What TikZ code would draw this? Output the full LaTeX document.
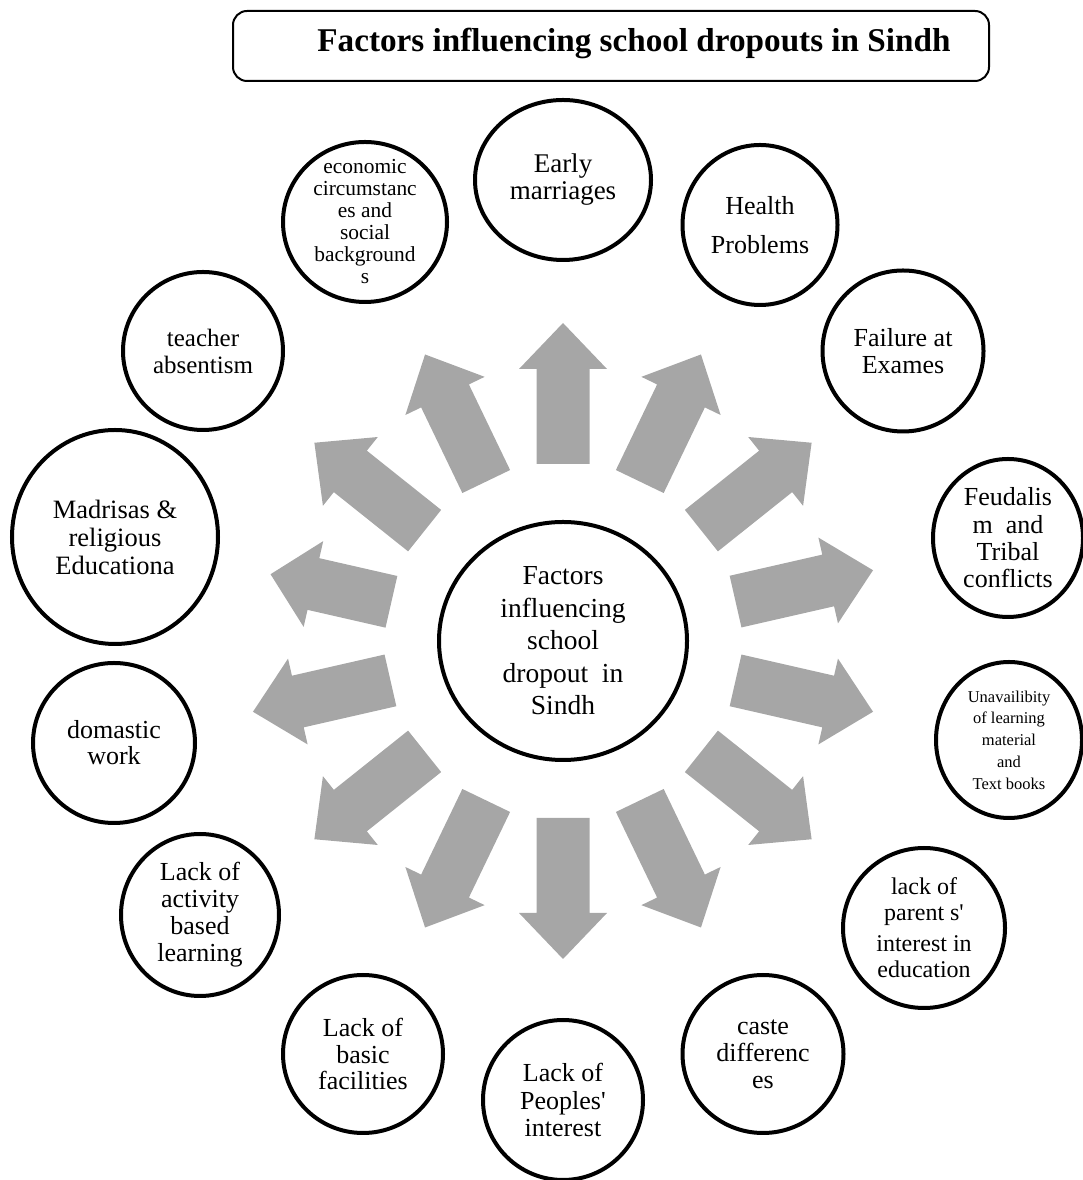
\documentclass[tikz,border=0pt]{standalone}
\usepackage{fontspec}
\setmainfont{Liberation Serif}
\usetikzlibrary{shapes.geometric}
\definecolor{arrowgray}{HTML}{A6A6A6}
\begin{document}
\begin{tikzpicture}[x=1pt,y=1pt,
  bubble/.style={ellipse, draw=black, line width=4pt, fill=white, inner sep=0pt},
  btext/.style={align=center, inner sep=0pt},
  blockarrow/.style={fill=arrowgray}]
\useasboundingbox (0,0) rectangle (1082,1180);

% title
\node[draw=black, line width=2pt, rounded corners=14pt, minimum width=756pt, minimum height=70pt, inner sep=0pt] (titlebox) at (611,1134) {};
\node[anchor=base, inner sep=0pt, font=\fontsize{33.2}{36}\selectfont\bfseries] (titletext) at (634,1128) {Factors influencing school dropouts in Sindh};

% centre
\coordinate (c) at (563,539);
\node[bubble, minimum width=248pt, minimum height=238pt] (hub) at (c) {};
\node[btext, font=\fontsize{27.5}{32.5}\selectfont] (hubt) at (hub) {Factors\\influencing\\school\\dropout\ \ in\\Sindh};

% block arrows
\foreach \a/\s/\h/\t in {90/177/272/318, 64.29/177/272/318, 38.57/177/272/318, 12.86/177/272/318,
  -12.86/177/272/318, -38.57/177/272/318, -64.29/177/272/318, -90/177/272/318,
  -115.71/177/272/318, -141.43/177/272/318, -167.14/177/272/318, 167.14/176/256/300,
  141.43/177/272/318, 115.71/177/272/318}{
  \fill[blockarrow, shift={(c)}, rotate=\a] (\s,-26.5) -- (\h,-26.5) -- (\h,-44) -- (\t,0) -- (\h,44) -- (\h,26.5) -- (\s,26.5) -- cycle;
}

% outer bubbles
\node[bubble, minimum width=176pt, minimum height=160pt] (em) at (563,1000) {};
\node[btext, font=\fontsize{27}{27}\selectfont] (emt) at (em) {Early\\marriages};

\node[bubble, minimum width=155pt, minimum height=160pt] (hp) at (760,955) {};
\node[btext, font=\fontsize{26}{39}\selectfont] (hpt) at (hp) {Health\\Problems};

\node[bubble, minimum width=161pt, minimum height=161pt] (fe) at (903,829) {};
\node[btext, font=\fontsize{26}{27}\selectfont] (fet) at (fe) {Failure at\\Exames};

\node[bubble, minimum width=150pt, minimum height=158pt] (fd) at (1008,642) {};
\node[btext, font=\fontsize{26}{27.3}\selectfont] (fdt) at (fd) {Feudalis\\m\ \ and\\Tribal\\conflicts};

\node[bubble, minimum width=146pt, minimum height=156pt] (un) at (1009,440) {};
\node[btext, font=\fontsize{16.5}{21.8}\selectfont] (unt) at (un) {Unavailibity\\of learning\\material\\and\\Text books};

\node[bubble, minimum width=162pt, minimum height=160pt] (lp) at (924,252) {};
\node[btext, font=\fontsize{24}{26}\selectfont] (lpt) at (lp) {lack of\\parent s\textquotesingle\\[5pt]interest in\\education};

\node[bubble, minimum width=161pt, minimum height=158pt] (cd) at (763,126) {};
\node[btext, font=\fontsize{26}{27}\selectfont] (cdt) at (cd) {caste\\differenc\\es};

\node[bubble, minimum width=160pt, minimum height=160pt] (pi) at (563,80) {};
\node[btext, font=\fontsize{26}{27.5}\selectfont] (pit) at (pi) {Lack of\\Peoples\textquotesingle\\interest};

\node[bubble, minimum width=160pt, minimum height=158pt] (bf) at (363,126) {};
\node[btext, font=\fontsize{26}{26.5}\selectfont] (bft) at (bf) {Lack of\\basic\\facilities};

\node[bubble, minimum width=158pt, minimum height=162pt] (ab) at (200,265) {};
\node[btext, font=\fontsize{26}{27}\selectfont] (abt) at (ab) {Lack of\\activity\\based\\learning};

\node[bubble, minimum width=162pt, minimum height=160pt] (dw) at (114,437) {};
\node[btext, font=\fontsize{26}{26}\selectfont] (dwt) at (dw) {domastic\\work};

\node[bubble, minimum width=206pt, minimum height=214pt] (mr) at (115,643) {};
\node[btext, font=\fontsize{26.5}{28}\selectfont] (mrt) at (mr) {Madrisas \&\\religious\\Educationa};

\node[bubble, minimum width=160pt, minimum height=158pt] (ta) at (203,829) {};
\node[btext, font=\fontsize{25}{27}\selectfont] (tat) at (ta) {teacher\\absentism};

\node[bubble, minimum width=164pt, minimum height=160pt] (ec) at (365,958) {};
\node[btext, font=\fontsize{21.4}{22}\selectfont] (ect) at (ec) {economic\\circumstanc\\es and\\social\\background\\s};
\end{tikzpicture}
\end{document}
